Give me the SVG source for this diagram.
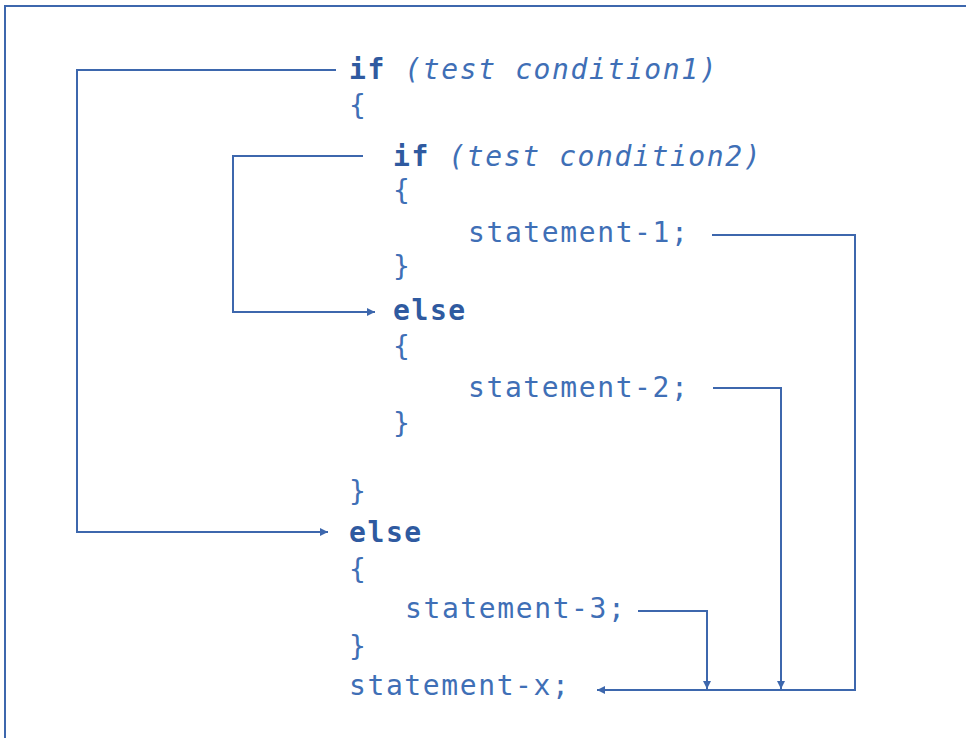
<svg xmlns="http://www.w3.org/2000/svg" width="966" height="738" viewBox="0 0 966 738">
<defs>
<marker id="ah" viewBox="0 0 10 10" refX="10" refY="5" markerWidth="10" markerHeight="8" markerUnits="userSpaceOnUse" orient="auto">
<path d="M0,0 L10,5 L0,10 z" fill="#3d67ad"/>
</marker>
<style>
.t{font-family:"DejaVu Sans Mono","Liberation Mono",monospace;font-size:28px;letter-spacing:1.6px;fill:#3f6fb6}
.k{font-weight:bold;fill:#2f5aa0}
.i{font-style:italic}
.c{fill:none;stroke:#3d67ad;stroke-width:2}
</style>
</defs>
<rect width="966" height="738" fill="#fff"/>
<g id="frame"><path class="c" d="M5,738 L5,6 L966,6"/></g>
<g id="connectors">
<path class="c" d="M336,70 H77 V532 H328" marker-end="url(#ah)"/>
<path class="c" d="M363,156 H233 V312 H375" marker-end="url(#ah)"/>
<path class="c" d="M712,235 H855 V690 H597" marker-end="url(#ah)"/>
<path class="c" d="M713,388 H781 V689" marker-end="url(#ah)"/>
<path class="c" d="M638,611 H707 V689" marker-end="url(#ah)"/>
</g>
<g id="n-if1"><text class="t" x="349" y="79"><tspan class="k">if</tspan> <tspan class="i">(test condition1)</tspan></text></g>
<g id="n-open1"><text class="t" x="349" y="115">{</text></g>
<g id="n-if2"><text class="t" x="393" y="166"><tspan class="k">if</tspan> <tspan class="i">(test condition2)</tspan></text></g>
<g id="n-open2"><text class="t" x="393" y="200">{</text></g>
<g id="n-s1"><text class="t" x="468" y="242">statement-1;</text></g>
<g id="n-close2"><text class="t" x="393" y="276">}</text></g>
<g id="n-else2"><text class="t k" x="393" y="320">else</text></g>
<g id="n-open3"><text class="t" x="393" y="356">{</text></g>
<g id="n-s2"><text class="t" x="468" y="397">statement-2;</text></g>
<g id="n-close3"><text class="t" x="393" y="433">}</text></g>
<g id="n-close1"><text class="t" x="349" y="501">}</text></g>
<g id="n-else1"><text class="t k" x="349" y="542">else</text></g>
<g id="n-open4"><text class="t" x="349" y="579">{</text></g>
<g id="n-s3"><text class="t" x="405" y="618">statement-3;</text></g>
<g id="n-close4"><text class="t" x="349" y="656">}</text></g>
<g id="n-sx"><text class="t" x="349" y="695">statement-x;</text></g>
</svg>
